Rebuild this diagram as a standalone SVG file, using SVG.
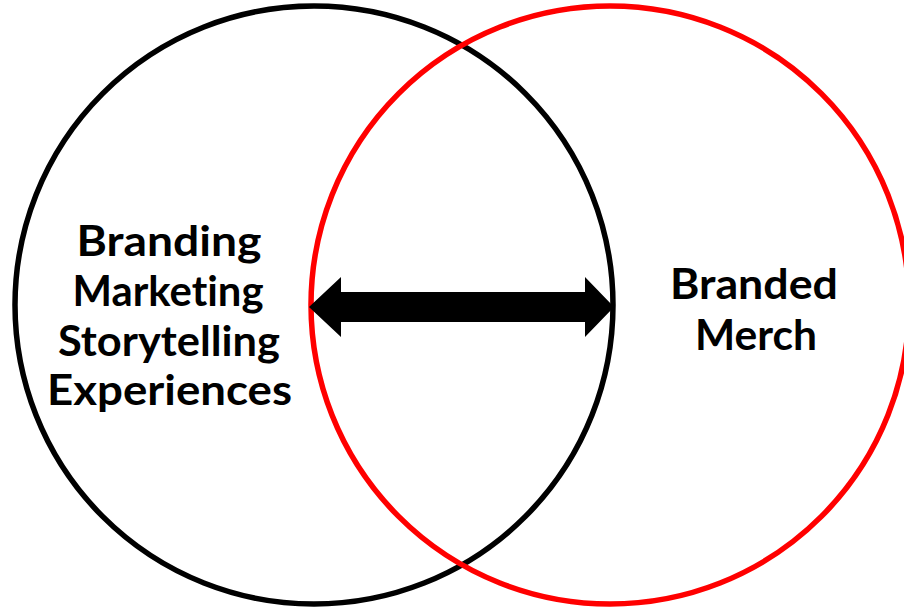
<svg xmlns="http://www.w3.org/2000/svg" width="904" height="611" viewBox="0 0 904 611">
  <style>
    .ring { fill: none; stroke-width: 5.5; }
    .label { font-family: Lato, "DejaVu Sans", sans-serif; font-weight: 700; font-size: 42px; fill: #000; text-anchor: middle; font-variant-ligatures: none; font-feature-settings: "liga" 0; }
  </style>
  <rect width="904" height="611" fill="#fff"/>
  <g id="left-circle">
    <circle class="ring" cx="314" cy="305" r="299" stroke="#000"/>
    <text class="label" x="169" y="256" textLength="185" lengthAdjust="spacingAndGlyphs">Branding</text>
    <text class="label" x="168" y="306" textLength="191" lengthAdjust="spacingAndGlyphs">Marketing</text>
    <text class="label" x="169" y="356" textLength="222" lengthAdjust="spacingAndGlyphs">Storytelling</text>
    <text class="label" x="169.5" y="405" textLength="245" lengthAdjust="spacingAndGlyphs">Experiences</text>
  </g>
  <g id="right-circle">
    <circle class="ring" cx="610" cy="305" r="299" stroke="#f00"/>
    <text class="label" x="754" y="299" textLength="168" lengthAdjust="spacingAndGlyphs">Branded</text>
    <text class="label" x="756" y="350" textLength="122" lengthAdjust="spacingAndGlyphs">Merch</text>
  </g>
  <g id="connectors">
    <polygon points="309,307 341,277 341,292 585,292 585,277 614,307 585,337 585,322 341,322 341,337" fill="#000"/>
  </g>
</svg>
